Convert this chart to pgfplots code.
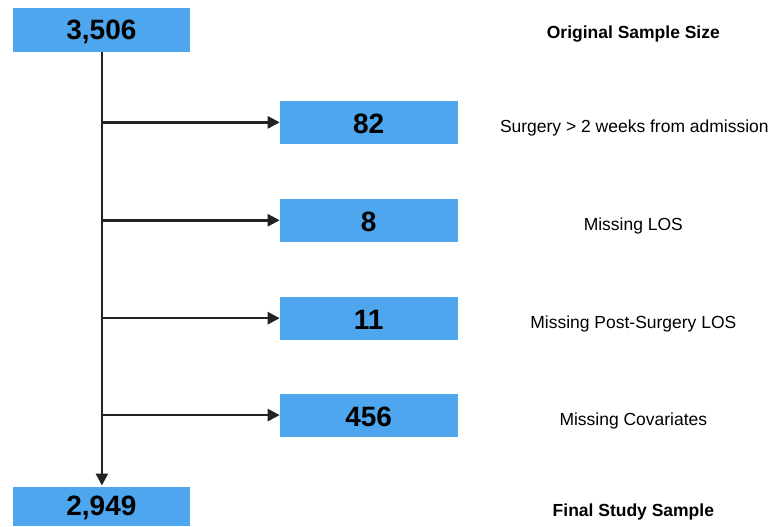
\documentclass[border=0pt]{standalone}
\usepackage{pgfplots}
\pgfplotsset{compat=1.18}
\usepackage{fontspec}
\setmainfont{Liberation Sans}
\usetikzlibrary{arrows.meta}
\definecolor{boxblue}{HTML}{4DA6EE}
\definecolor{linedark}{HTML}{222222}
\begin{document}
\begin{tikzpicture}[x=1pt,y=1pt]
\begin{axis}[
  scale only axis, width=772pt, height=527pt,
  xmin=0, xmax=772, ymin=0, ymax=527, y dir=reverse,
  hide axis, clip=false,
]
% frame (invisible) to fix the picture's extent
\addplot[draw=none] coordinates {(0,0) (772,527)};
% boxes
\addplot[fill=boxblue, draw=none] coordinates {(13,8) (190,8) (190,52) (13,52)} -- cycle;
\addplot[fill=boxblue, draw=none] coordinates {(280,101) (458,101) (458,144) (280,144)} -- cycle;
\addplot[fill=boxblue, draw=none] coordinates {(280,199) (458,199) (458,242) (280,242)} -- cycle;
\addplot[fill=boxblue, draw=none] coordinates {(280,297) (458,297) (458,340) (280,340)} -- cycle;
\addplot[fill=boxblue, draw=none] coordinates {(280,394) (458,394) (458,437) (280,437)} -- cycle;
\addplot[fill=boxblue, draw=none] coordinates {(13,487) (190,487) (190,527) (13,527)} -- cycle;
% lines
\addplot[linedark, line width=2.5pt, -{Triangle[length=12pt,width=12pt]}] coordinates {(102,52) (102,486)};
\addplot[linedark, line width=2.5pt, -{Triangle[length=12pt,width=12pt]}] coordinates {(102,122.5) (280,122.5)};
\addplot[linedark, line width=2.5pt, -{Triangle[length=12pt,width=12pt]}] coordinates {(102,220.5) (280,220.5)};
\addplot[linedark, line width=2.5pt, -{Triangle[length=12pt,width=12pt]}] coordinates {(102,318.5) (280,318.5)};
\addplot[linedark, line width=2.5pt, -{Triangle[length=12pt,width=12pt]}] coordinates {(102,415.5) (280,415.5)};
% numbers
\node[font=\fontsize{28}{30}\selectfont\bfseries] at (axis cs:101.5,31.5) {3,506};
\node[font=\fontsize{28}{30}\selectfont\bfseries] at (axis cs:369,124) {82};
\node[font=\fontsize{28}{30}\selectfont\bfseries] at (axis cs:369,222) {8};
\node[font=\fontsize{28}{30}\selectfont\bfseries] at (axis cs:369,320) {11};
\node[font=\fontsize{28}{30}\selectfont\bfseries] at (axis cs:369,417) {456};
\node[font=\fontsize{28}{30}\selectfont\bfseries] at (axis cs:101.5,508.5) {2,949};
% labels
\node[font=\fontsize{17.5}{19}\selectfont\bfseries] at (axis cs:634,34) {Original Sample Size};
\node[font=\fontsize{17.5}{19}\selectfont] at (axis cs:635,128) {Surgery > 2 weeks from admission};
\node[font=\fontsize{17.5}{19}\selectfont] at (axis cs:634,226) {Missing LOS};
\node[font=\fontsize{17.5}{19}\selectfont] at (axis cs:634,324) {Missing Post-Surgery LOS};
\node[font=\fontsize{17.5}{19}\selectfont] at (axis cs:634,421) {Missing Covariates};
\node[font=\fontsize{17.5}{19}\selectfont\bfseries] at (axis cs:634,513) {Final Study Sample};
\end{axis}
\end{tikzpicture}
\end{document}
